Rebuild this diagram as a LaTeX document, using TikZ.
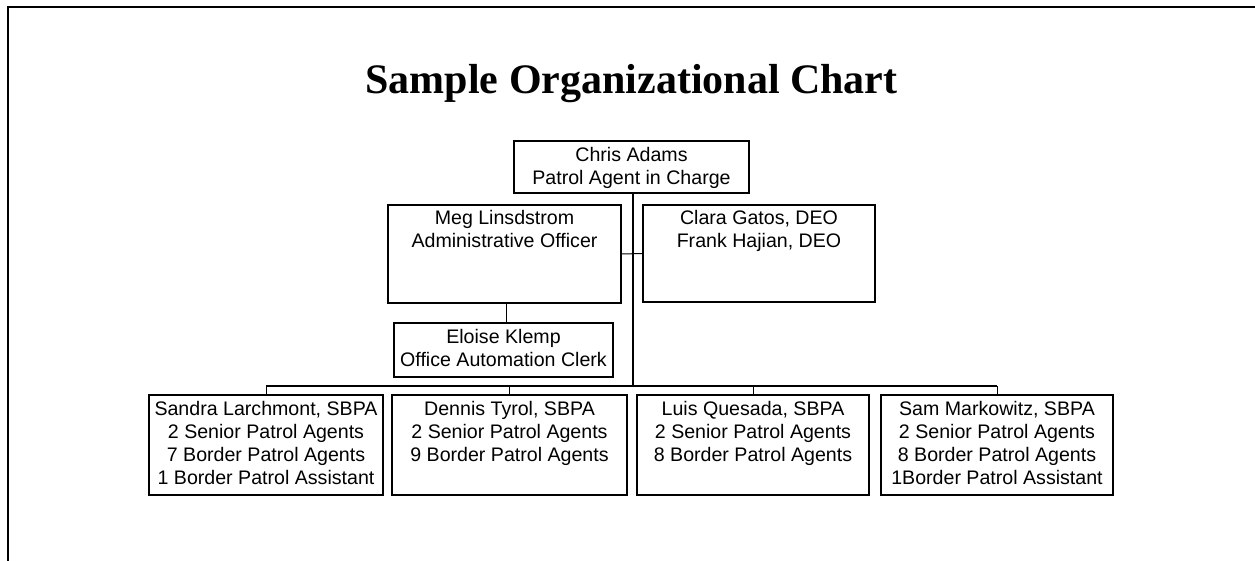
\documentclass[tikz,border=0pt]{standalone}
\usepackage{fontspec}
\setmainfont{Liberation Sans}
\newfontfamily\titlefont{Liberation Serif}
\begin{document}
\begin{tikzpicture}[x=1pt,y=1pt,
  box/.style={draw,line width=1.8pt,inner sep=0pt,minimum width=#1},
  lbl/.style={inner sep=0pt,anchor=north,align=center,font=\fontsize{19.6}{23}\selectfont},
  thick line/.style={line width=1.8pt},
  thin line/.style={line width=1pt}]
\useasboundingbox (0,0) rectangle (1255,561);
% frame
\coordinate (fr1) at (1255,554);
\coordinate (fr2) at (8,554);
\coordinate (fr3) at (8,0);
\draw[line width=2pt] (fr1) -- (fr2) -- (fr3);
% title
\node[inner sep=0pt,anchor=base] (title) at (631.5,467)
  {\titlefont\bfseries\fontsize{42}{46}\selectfont Sample Organizational Chart};
% boxes
\node[box=235pt,minimum height=52pt] (chris) at (631.5,394) {};
\node[box=233pt,minimum height=98pt] (meg) at (504.5,307) {};
\node[box=232pt,minimum height=97pt] (clara) at (759,307.5) {};
\node[box=219pt,minimum height=54pt] (eloise) at (503.5,211) {};
\node[box=234pt,minimum height=100pt] (sandra) at (266,116) {};
\node[box=235pt,minimum height=100pt] (dennis) at (509.5,116) {};
\node[box=232pt,minimum height=100pt] (luis) at (753,116) {};
\node[box=232pt,minimum height=100pt] (sam) at (997,116) {};
% texts
\node[lbl] (tchris) at ([yshift=-7pt]chris.north) {Chris Adams\\Patrol Agent in Charge};
\node[lbl] (tmeg) at ([yshift=-6pt]meg.north) {Meg Linsdstrom\\Administrative Officer};
\node[lbl] (tclara) at ([yshift=-6pt]clara.north) {Clara Gatos, DEO\\Frank Hajian, DEO};
\node[lbl] (teloise) at ([yshift=-7pt]eloise.north) {Eloise Klemp\\Office Automation Clerk};
\node[lbl] (tsandra) at ([yshift=-7pt]sandra.north) {Sandra Larchmont, SBPA\\2 Senior Patrol Agents\\7 Border Patrol Agents\\1 Border Patrol Assistant};
\node[lbl] (tdennis) at ([yshift=-7pt]dennis.north) {Dennis Tyrol, SBPA\\2 Senior Patrol Agents\\9 Border Patrol Agents};
\node[lbl] (tluis) at ([yshift=-7pt]luis.north) {Luis Quesada, SBPA\\2 Senior Patrol Agents\\8 Border Patrol Agents};
\node[lbl] (tsam) at ([yshift=-7pt]sam.north) {Sam Markowitz, SBPA\\2 Senior Patrol Agents\\8 Border Patrol Agents\\1Border Patrol Assistant};
% connectors
\coordinate (trunktop) at (633,394);
\coordinate (trunk) at (633,175);
\coordinate (busL) at (sandra.north |- trunk);
\coordinate (busR) at (sam.north |- trunk);
\draw[thick line] (chris.south -| trunktop) -- (trunk);
\draw[thick line] (busL) -- (busR);
\draw[thin line] (meg.east) -- (clara.west);
\draw[thin line] ([xshift=1.5pt]meg.south) -- ([xshift=1.5pt]meg.south |- eloise.north);
\draw[thin line] (sandra.north) -- (sandra.north |- trunk);
\draw[thin line] (dennis.north) -- (dennis.north |- trunk);
\draw[thin line] (luis.north) -- (luis.north |- trunk);
\draw[thin line] (sam.north) -- (sam.north |- trunk);
\end{tikzpicture}
\end{document}
